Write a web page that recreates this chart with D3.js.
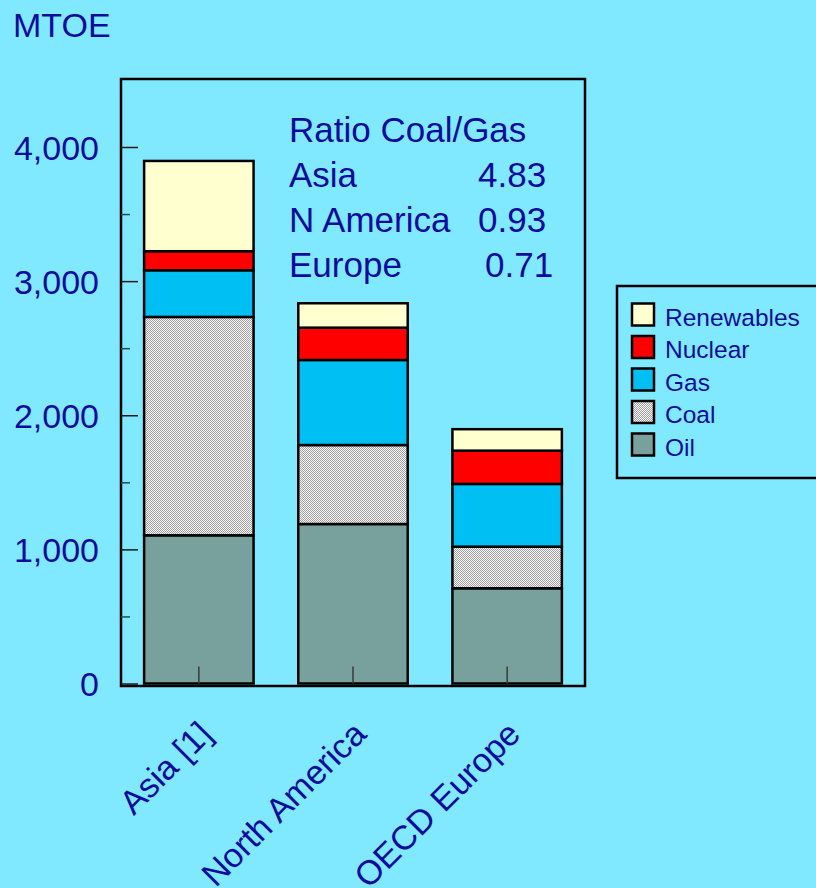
<!DOCTYPE html>
<html>
<head>
<meta charset="utf-8">
<script src="https://cdn.jsdelivr.net/npm/d3@7"></script>
<style>
  html, body { margin: 0; padding: 0; background: #80e9ff; }
  svg { display: block; }
  text { font-family: "Liberation Sans", Arial, sans-serif; fill: #0c0c9c; }
</style>
</head>
<body>
<svg id="chart" width="816" height="888"></svg>
<script>
const REGIONS = ["Asia [1]", "North America", "OECD Europe"];
const FUELS = ["Oil", "Coal", "Gas", "Nuclear", "Renewables"];
const OIL = [1105, 1189, 710];
const COAL = [1628, 589, 310];
const GAS = [348, 634, 468];
const NUCLEAR = [142, 241, 248];
const RENEWABLES = [673, 182, 160];
const Y_TICKS = [0, 1000, 2000, 3000, 4000];
const Y_MINOR = [500, 1500, 2500, 3500];
const RATIO_LABELS = ["Asia", "N America", "Europe"];
const RATIO_VALUES = ["4.83", "0.93", "0.71"];

const colors = {
  Oil: "#78a19d",
  Coal: "url(#coal)",
  Gas: "#00bff3",
  Nuclear: "#ff0000",
  Renewables: "#ffffd0",
};

const frame = { left: 121, right: 585, top: 79, bottom: 686 };

const svg = d3.select("#chart");

// fine checker fill for coal
const defs = svg.append("defs");
const pat = defs
  .append("pattern")
  .attr("id", "coal")
  .attr("patternUnits", "userSpaceOnUse")
  .attr("width", 2)
  .attr("height", 2);
pat.append("rect").attr("width", 2).attr("height", 2).attr("fill", "#f6f6f6");
pat.append("rect").attr("width", 1).attr("height", 1).attr("fill", "#a0a0a0");
pat.append("rect").attr("x", 1).attr("y", 1).attr("width", 1).attr("height", 1).attr("fill", "#a0a0a0");

const data = REGIONS.map((r, i) => ({
  region: r,
  Oil: OIL[i],
  Coal: COAL[i],
  Gas: GAS[i],
  Nuclear: NUCLEAR[i],
  Renewables: RENEWABLES[i],
}));

const x = d3
  .scaleBand()
  .domain(REGIONS)
  .range([frame.left, frame.right])
  .paddingInner(0.29)
  .paddingOuter(0.15);

const y = d3.scaleLinear().domain([0, 4000]).range([683.5, 147]);

// y axis label
svg.append("text").attr("x", 13).attr("y", 37).attr("font-size", 34).text("MTOE");

// bars
const stacked = d3.stack().keys(FUELS)(data);
svg
  .append("g")
  .selectAll("g")
  .data(stacked)
  .join("g")
  .attr("fill", (s) => colors[s.key])
  .selectAll("rect")
  .data((s) => s)
  .join("rect")
  .attr("x", (d) => x(d.data.region))
  .attr("y", (d) => y(d[1]))
  .attr("width", x.bandwidth())
  .attr("height", (d) => y(d[0]) - y(d[1]))
  .attr("stroke", "#000")
  .attr("stroke-width", 2.5);

// frame
svg
  .append("rect")
  .attr("x", frame.left)
  .attr("y", frame.top)
  .attr("width", frame.right - frame.left)
  .attr("height", frame.bottom - frame.top)
  .attr("fill", "none")
  .attr("stroke", "#000")
  .attr("stroke-width", 2.5);

// y axis, ticks pointing inward
svg
  .append("g")
  .attr("transform", `translate(${frame.left},0)`)
  .call(
    d3.axisLeft(y).tickValues(Y_TICKS).tickSize(-17).tickPadding(22).tickFormat(d3.format(","))
  )
  .call((g) => g.select(".domain").remove())
  .call((g) => g.selectAll(".tick line").attr("stroke", "#1a1a1a").attr("stroke-width", 1.5))
  .call((g) =>
    g
      .selectAll(".tick text")
      .attr("font-size", 34)
      .attr("font-family", "Liberation Sans, Arial, sans-serif")
      .attr("fill", "#0c0c9c")
      .attr("dy", 12)
  );

svg
  .append("g")
  .attr("transform", `translate(${frame.left},0)`)
  .call(d3.axisLeft(y).tickValues(Y_MINOR).tickSize(-9).tickFormat(""))
  .call((g) => g.select(".domain").remove())
  .call((g) => g.selectAll(".tick line").attr("stroke", "#2a4a50").attr("stroke-width", 1.5));

// x axis ticks at bar centres
svg
  .append("g")
  .attr("transform", `translate(0,${y(0)})`)
  .call(d3.axisBottom(x).tickSize(-17).tickFormat(""))
  .call((g) => g.select(".domain").remove())
  .call((g) => g.selectAll(".tick line").attr("stroke", "#3a3a3a").attr("stroke-width", 1.5));

// rotated category labels
svg
  .append("g")
  .selectAll("text")
  .data(REGIONS)
  .join("text")
  .attr("font-size", 34)
  .attr("text-anchor", "end")
  .attr(
    "transform",
    (d) => `translate(${x(d) + x.bandwidth() / 2 + 15},${736}) rotate(-45)`
  )
  .text((d) => d);

// ratio annotation
const note = svg.append("g").attr("font-size", 35);
note.append("text").attr("x", 289).attr("y", 142).text("Ratio Coal/Gas");
const ratioX = [478, 478, 485];
RATIO_LABELS.forEach((lab, i) => {
  note.append("text").attr("x", 289).attr("y", 187 + i * 45).text(lab);
  note.append("text").attr("x", ratioX[i]).attr("y", 187 + i * 45).text(RATIO_VALUES[i]);
});

// legend
const legend = svg.append("g");
legend
  .append("rect")
  .attr("x", 617)
  .attr("y", 286)
  .attr("width", 240)
  .attr("height", 192)
  .attr("fill", "none")
  .attr("stroke", "#000")
  .attr("stroke-width", 2.5);

const legendKeys = FUELS.slice().reverse();
const item = legend
  .selectAll("g.item")
  .data(legendKeys)
  .join("g")
  .attr("class", "item")
  .attr("transform", (d, i) => `translate(632,${303.5 + i * 32.5})`);
item
  .append("rect")
  .attr("width", 22)
  .attr("height", 22)
  .attr("fill", (d) => colors[d])
  .attr("stroke", "#000")
  .attr("stroke-width", 2.5);
item
  .append("text")
  .attr("x", 33)
  .attr("y", 22)
  .attr("font-size", 24.5)
  .text((d) => d);
</script>
</body>
</html>
